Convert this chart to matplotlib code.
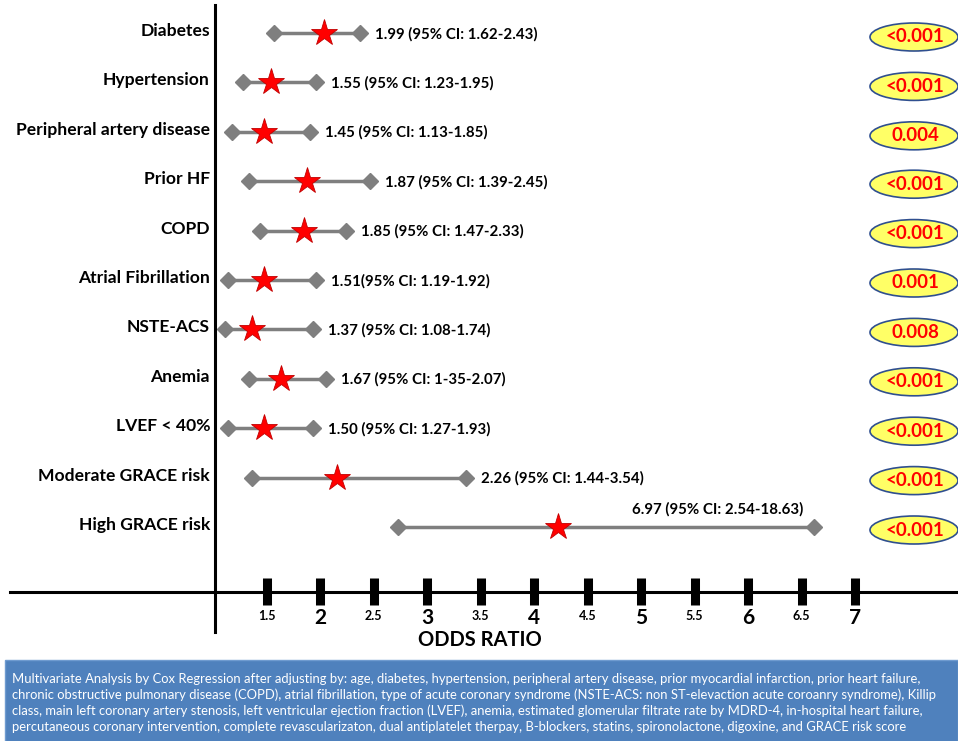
import numpy as np
import matplotlib.pyplot as plt
from matplotlib.patches import Ellipse, Rectangle

# rows, top to bottom
factors = ["Diabetes", "Hypertension", "Peripheral artery disease", "Prior HF", "COPD",
           "Atrial Fibrillation", "NSTE-ACS", "Anemia", "LVEF < 40%",
           "Moderate GRACE risk", "High GRACE risk"]
# positions as drawn in the picture (odds-ratio scale)
est = [2.04, 1.54, 1.48, 1.88, 1.85, 1.48, 1.36, 1.64, 1.48, 2.16, 4.22]
lo = [1.57, 1.28, 1.18, 1.34, 1.44, 1.14, 1.11, 1.34, 1.14, 1.36, 2.73]
hi = [2.37, 1.96, 1.91, 2.47, 2.24, 1.96, 1.93, 2.06, 1.93, 3.36, 6.62]
ci_text = ["1.99 (95% CI: 1.62-2.43)", "1.55 (95% CI: 1.23-1.95)", "1.45 (95% CI: 1.13-1.85)",
           "1.87 (95% CI: 1.39-2.45)", "1.85 (95% CI: 1.47-2.33)", "1.51(95% CI: 1.19-1.92)",
           "1.37 (95% CI: 1.08-1.74)", "1.67 (95% CI: 1-35-2.07)", "1.50 (95% CI: 1.27-1.93)",
           "2.26 (95% CI: 1.44-3.54)", "6.97 (95% CI: 2.54-18.63)"]
pvals = ["<0.001", "<0.001", "0.004", "<0.001", "<0.001", "0.001", "0.008",
         "<0.001", "<0.001", "<0.001", "<0.001"]
ticks = [1.5, 2, 2.5, 3, 3.5, 4, 4.5, 5, 5.5, 6, 6.5, 7]
tick_labels = ["1.5", "2", "2.5", "3", "3.5", "4", "4.5", "5", "5.5", "6", "6.5", "7"]

note_lines = [
    "Multivariate Analysis by Cox Regression after adjusting by: age, diabetes, hypertension, peripheral artery disease, prior myocardial infarction, prior heart failure,",
    "chronic obstructive pulmonary disease (COPD), atrial fibrillation, type of acute coronary syndrome (NSTE-ACS: non ST-elevaction acute coroanry syndrome), Killip",
    "class, main left coronary artery stenosis, left ventricular ejection fraction (LVEF), anemia, estimated glomerular filtrate rate by MDRD-4, in-hospital heart failure,",
    "percutaneous coronary intervention, complete revascularizaton, dual antiplatelet therpay, B-blockers, statins, spironolactone, digoxine, and GRACE risk score",
]

plt.rcParams['font.family'] = ['Lato', 'DejaVu Sans']

W, H = 958, 741
PX = 107.0  # pixels per odds-ratio unit
X0 = 1 - 213 / PX

fig = plt.figure(figsize=(W / 100, H / 100), dpi=100)
ax = fig.add_axes([0, 0, 1, 1])
ax.set_xlim(X0, X0 + W / PX)
ax.set_ylim(H, 0)
ax.axis("off")

def px(p):
    return X0 + p / PX

row_y = 33 + np.arange(len(factors)) * 49.4

for i, name in enumerate(factors):
    y = row_y[i]
    ax.text(px(210), y - 2, name, ha="right", va="center", fontsize=12.6, fontweight="bold")
    ax.plot([lo[i], hi[i]], [y, y], color="#7f7f7f", lw=2.5, zorder=2)
    ax.plot([lo[i], hi[i]], [y, y], "D", color="#7f7f7f", ms=8, zorder=3)
    ax.plot(est[i], y, "*", color="#ff0000", mec="#c00000", mew=0.6, ms=20, zorder=4)
    if i == len(factors) - 1:
        ax.text(hi[i] - 0.1, y - 10, ci_text[i], ha="right", va="bottom",
                fontsize=10.8, fontweight="bold")
    else:
        ax.text(hi[i] + 15 / PX, y + 1, ci_text[i], ha="left", va="center",
                fontsize=10.8, fontweight="bold")
    # p-value ellipse
    ey = y + 4 if i < 3 else y + 3
    ax.add_patch(Ellipse((px(914), ey), 88 / PX, 28, facecolor="#ffff66",
                         edgecolor="#2f4f8f", lw=1.2, zorder=3))
    ax.text(px(915), ey, pvals[i], ha="center", va="center", color="#ff0000",
            fontsize=13.5, fontweight="bold", zorder=4)

# axes lines
ax.plot([px(215), px(215)], [5, 632], color="black", lw=2.2)
ax.plot([px(10), px(958)], [592, 592], color="black", lw=2.2)

for t, lab in zip(ticks, tick_labels):
    ax.plot([t, t], [578, 605], color="black", lw=6.5, solid_capstyle="butt")
    if float(t).is_integer():
        ax.text(t, 618, lab, ha="center", va="center", fontsize=15, fontweight="bold")
    else:
        ax.text(t, 616, lab, ha="center", va="center", fontsize=9, fontweight="bold")

ax.text(px(480), 640, "ODDS RATIO", ha="center", va="center", fontsize=14.5, fontweight="bold")

# note box
ax.add_patch(Rectangle((px(5), 660), (W - 5) / PX, 85, facecolor="#4f81bd",
                       edgecolor="#6f9bd0", lw=1, zorder=1))
for k, line in enumerate(note_lines):
    ax.text(px(12), 679 + k * 16, line, ha="left", va="center", color="white",
            fontsize=9.35, zorder=2)

fig.savefig("out.png", dpi=100)
